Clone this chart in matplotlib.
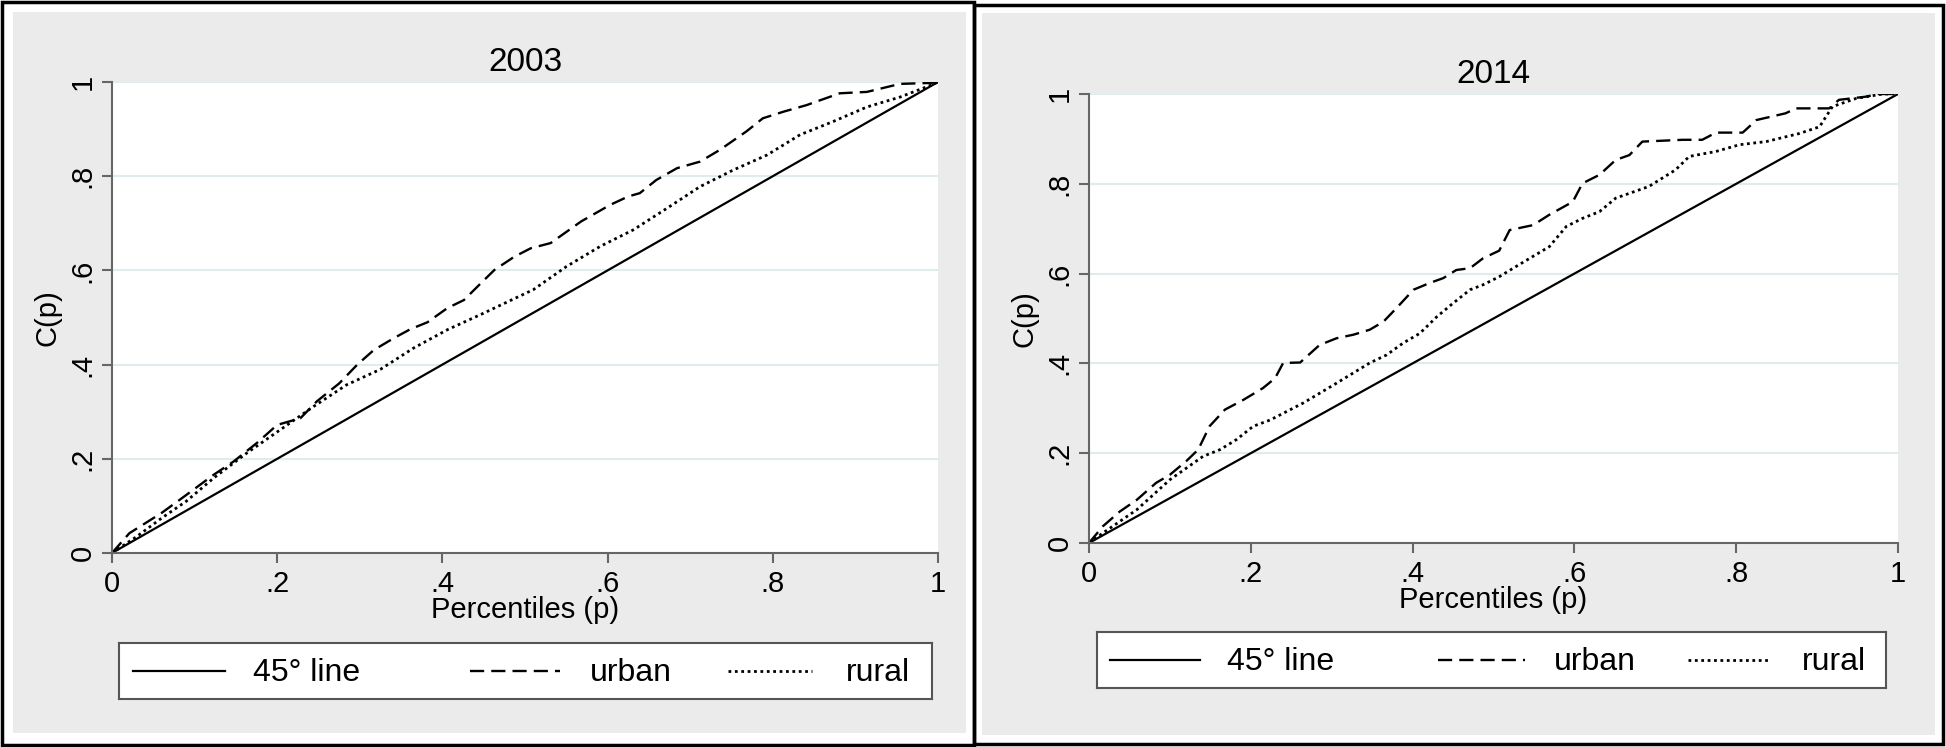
import matplotlib
matplotlib.use("Agg")
import matplotlib.pyplot as plt
from matplotlib.patches import Rectangle

plt.rcParams['font.family'] = ['Liberation Sans', 'DejaVu Sans']

# concentration curves
line45 = [0, 1]

p_urban_2003 = [0, 0.021, 0.06, 0.082, 0.123, 0.147, 0.175, 0.2, 0.228, 0.248, 0.275, 0.297, 0.317,
                0.341, 0.361, 0.382, 0.406, 0.426, 0.445, 0.463, 0.487, 0.507, 0.531, 0.568, 0.603,
                0.625, 0.639, 0.659, 0.684, 0.712, 0.736, 0.768, 0.788, 0.813, 0.841, 0.881, 0.914,
                0.954, 0.991, 1.0]
c_urban_2003 = [0, 0.042, 0.085, 0.113, 0.166, 0.194, 0.233, 0.272, 0.286, 0.322, 0.36, 0.4, 0.431,
                0.456, 0.475, 0.49, 0.52, 0.537, 0.57, 0.601, 0.629, 0.647, 0.658, 0.704, 0.739,
                0.757, 0.764, 0.792, 0.817, 0.831, 0.856, 0.895, 0.923, 0.937, 0.951, 0.976, 0.979,
                0.996, 0.998, 1.0]

p_rural_2003 = [0, 0.03, 0.06, 0.09, 0.123, 0.163, 0.204, 0.244, 0.284, 0.325, 0.365, 0.406, 0.446,
                0.487, 0.51, 0.55, 0.591, 0.631, 0.672, 0.712, 0.752, 0.793, 0.833, 0.873, 0.914,
                0.954, 0.991, 1.0]
c_rural_2003 = [0, 0.035, 0.074, 0.11, 0.159, 0.212, 0.262, 0.311, 0.357, 0.39, 0.435, 0.474, 0.506,
                0.54, 0.559, 0.608, 0.651, 0.686, 0.732, 0.778, 0.813, 0.845, 0.888, 0.916, 0.947,
                0.968, 0.993, 1.0]

p_urban_2014 = [0, 0.017, 0.038, 0.059, 0.083, 0.1, 0.12, 0.135, 0.149, 0.168, 0.191, 0.215, 0.23,
                0.24, 0.261, 0.285, 0.306, 0.327, 0.347, 0.364, 0.38, 0.401, 0.421, 0.438, 0.454,
                0.471, 0.487, 0.507, 0.52, 0.549, 0.569, 0.598, 0.61, 0.631, 0.651, 0.668, 0.684,
                0.734, 0.758, 0.775, 0.808, 0.825, 0.861, 0.874, 0.915, 0.927, 0.96, 0.976, 1.0]
c_urban_2014 = [0, 0.037, 0.07, 0.096, 0.134, 0.152, 0.182, 0.208, 0.26, 0.297, 0.319, 0.345, 0.367,
                0.401, 0.402, 0.441, 0.456, 0.464, 0.475, 0.493, 0.523, 0.564, 0.579, 0.59, 0.608,
                0.612, 0.634, 0.651, 0.697, 0.708, 0.731, 0.76, 0.801, 0.82, 0.853, 0.864, 0.894,
                0.898, 0.898, 0.914, 0.914, 0.942, 0.957, 0.968, 0.968, 0.987, 0.994, 1.0, 1.0]

p_rural_2014 = [0, 0.017, 0.059, 0.1, 0.141, 0.162, 0.182, 0.203, 0.224, 0.265, 0.306, 0.347, 0.368,
                0.388, 0.409, 0.43, 0.45, 0.471, 0.487, 0.507, 0.528, 0.569, 0.59, 0.61, 0.631,
                0.651, 0.692, 0.725, 0.742, 0.775, 0.804, 0.837, 0.878, 0.903, 0.919, 0.948, 0.981, 1.0]
c_rural_2014 = [0, 0.022, 0.074, 0.141, 0.193, 0.208, 0.23, 0.26, 0.274, 0.312, 0.356, 0.401, 0.419,
                0.445, 0.467, 0.504, 0.534, 0.564, 0.575, 0.593, 0.616, 0.66, 0.705, 0.723, 0.738,
                0.768, 0.794, 0.831, 0.861, 0.872, 0.887, 0.894, 0.912, 0.927, 0.972, 0.99, 1.0, 1.0]

ticks = [0, 0.2, 0.4, 0.6, 0.8, 1]
tick_labels = ['0', '.2', '.4', '.6', '.8', '1']
legend_labels = ['45° line', 'urban', 'rural']

W, H = 1946, 747
fig = plt.figure(figsize=(W / 100, H / 100), dpi=100)
fig.patch.set_facecolor('white')

def box(x0, y0, x1, y1):
    # pixel box (top-left origin) -> figure fraction rect
    return [x0 / W, 1 - y1 / H, (x1 - x0) / W, (y1 - y0) / H]

dashed = (0, (6, 3))
dotted = (0, (1, 1.3))
grey_bg = '#EBEBEB'
axis_col = '#666666'

# panel backgrounds and frames (behind the axes)
for gx, fx in [((13, 12, 966, 733), (2, 2, 974, 745)), ((982, 13, 1935, 735), (974, 5, 1943, 744))]:
    r = box(*gx)
    fig.patches.append(Rectangle((r[0], r[1]), r[2], r[3], transform=fig.transFigure,
                                 facecolor=grey_bg, edgecolor='none', zorder=-10))
    r = box(*fx)
    fig.patches.append(Rectangle((r[0], r[1]), r[2], r[3], transform=fig.transFigure,
                                 facecolor='none', edgecolor='black', lw=2.5, zorder=-5))

panels = [
    ('2003', (112, 82, 938, 553), (119, 643, 932, 699),
     p_urban_2003, c_urban_2003, p_rural_2003, c_rural_2003),
    ('2014', (1089, 94, 1898, 543), (1097, 632, 1886, 688),
     p_urban_2014, c_urban_2014, p_rural_2014, c_rural_2014),
]

for title, axbox, legbox, pu, cu, pr, cr in panels:
    ax = fig.add_axes(box(*axbox))
    ax.set_facecolor('white')
    ax.plot(line45, line45, color='black', lw=1.6, solid_capstyle='butt')
    ax.plot(pu, cu, color='black', lw=1.7, linestyle=dashed)
    ax.plot(pr, cr, color='black', lw=2.0, linestyle=dotted)
    ax.set_xlim(0, 1)
    ax.set_ylim(0, 1)
    ax.set_xticks(ticks)
    ax.set_xticklabels(tick_labels)
    ax.set_yticks(ticks)
    ax.set_yticklabels(tick_labels, rotation=90, va='center')
    ax.grid(axis='y', color='#E0EBEE', lw=1.5)
    ax.set_axisbelow(True)
    for s in ['top', 'right']:
        ax.spines[s].set_visible(False)
    for s in ['left', 'bottom']:
        ax.spines[s].set_color(axis_col)
        ax.spines[s].set_linewidth(1.5)
    ax.tick_params(direction='out', length=7, width=1.5, color=axis_col, labelsize=21)
    ax.tick_params(axis='x', pad=5)
    ax.tick_params(axis='y', pad=4)
    ax.set_title(title, fontsize=24, pad=8)
    ax.set_xlabel('Percentiles (p)', fontsize=21, labelpad=-1)
    ax.set_ylabel('C(p)', fontsize=21, labelpad=5)

    # legend box
    lg = fig.add_axes(box(*legbox))
    lg.set_facecolor('white')
    lg.set_xlim(0, 1)
    lg.set_ylim(0, 1)
    lg.set_xticks([])
    lg.set_yticks([])
    for s in lg.spines.values():
        s.set_color('#555555')
        s.set_linewidth(1.5)
    styles = ['-', dashed, dotted]
    widths = [1.6, 1.7, 2.0]
    handle_x = [(0.017, 0.130), (0.432, 0.542), (0.749, 0.853)]
    text_x = [0.165, 0.579, 0.894]
    for lab, ls, w, (h0, h1), tx in zip(legend_labels, styles, widths, handle_x, text_x):
        lg.plot([h0, h1], [0.5, 0.5], color='black', lw=w, linestyle=ls)
        lg.text(tx, 0.47, lab, fontsize=23, va='center', ha='left')

fig.savefig('out.png', dpi=100, facecolor='white')
